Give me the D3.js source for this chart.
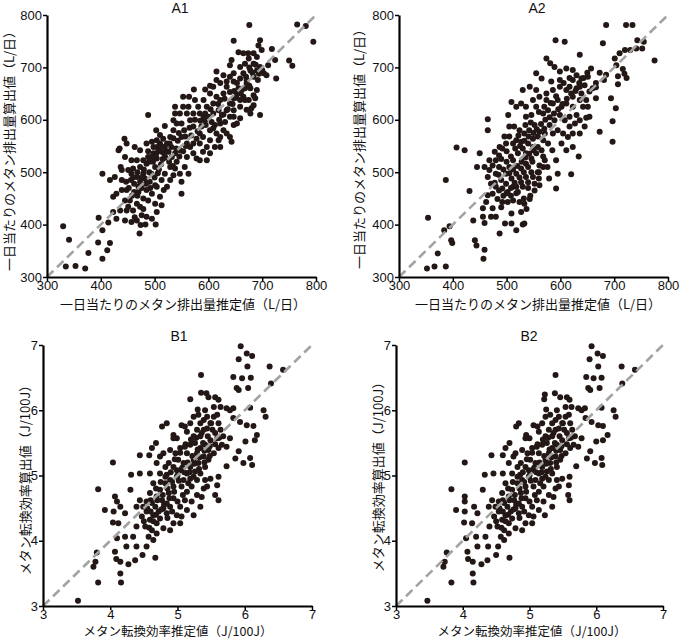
<!DOCTYPE html>
<html>
<head>
<meta charset="utf-8">
<script src="https://cdn.jsdelivr.net/npm/d3@7"></script>
<style>
body{margin:0;background:#fff;}
</style>
</head>
<body>
<svg id="chart" width="680" height="640"></svg>
<script>
// [推定値, 算出値]
var a1Points = [
[330,397],[341,371],[335,320],[353,321],[371,316],[377,346],[395,366],[396,413],[403,389],[412,351],
[403,335],[417,365],[414,404],[403,497],[417,485],[426,491],[423,453],[423,424],[429,411],[435,545],
[444,564],[439,504],[448,555],[439,466],[445,446],[448,427],[445,408],[457,405],[463,548],[463,414],
[472,383],[474,399],[483,400],[488,609],[502,400],[503,580],[519,588],[535,599],[550,459],[553,644],
[564,644],[573,658],[584,523],[597,523],[594,658],[603,665],[615,692],[622,670],[647,689],[647,751],
[643,714],[643,558],[647,590],[656,729],[676,781],[674,727],[684,727],[696,752],[696,609],[687,641],
[690,657],[718,735],[724,714],[726,679],[680,622],[750,713],[756,703],[765,782],[781,779],[795,749],
[671,619],[668,638],[659,625],[692,676],[671,670],
[433,542],[437,510],[447,482],[456,485],[460,507],[467,523],[470,472],[462,462],[454,446],[467,440],
[473,434],[479,450],[485,466],[491,482],[494,497],[501,510],[504,526],[513,539],[519,548],[526,539],
[532,529],[538,536],[547,542],[541,520],[529,510],[519,497],[513,485],[504,472],[495,459],[488,446],
[479,430],[476,418],[485,415],[495,411],[501,440],[510,453],[517,466],[523,472],[529,485],[535,494],
[547,497],[556,510],[563,497],[550,482],[538,507],[560,529],[566,548],[572,555],[578,564],[584,574],
[587,587],[594,599],[600,606],[606,596],[609,584],[615,574],[619,561],[622,548],[603,561],[597,548],
[590,539],[584,555],[572,587],[566,599],[560,612],[553,625],[547,612],[541,593],[535,580],[529,567],
[523,555],[516,564],[510,555],[507,542],[498,536],[488,529],[479,523],[473,510],[479,497],[485,516],
[473,482],[467,491],[457,497],[451,504],[439,485],[445,529],[457,523],[473,542],[485,555],[495,558],
[504,561],[510,571],[501,475],[448,466],[451,434],[460,427],[467,408],[436,427],[429,459],[504,424],
[513,437],
[584,612],[581,625],[575,638],[591,638],[597,625],[609,631],[615,644],[622,638],[628,650],[634,663],
[640,653],[647,641],[653,650],[640,631],[634,618],[625,609],[619,618],[609,612],[622,593],[628,580],
[634,574],[640,567],[631,596],[640,606],[647,618],[659,638],[662,657],[671,676],[665,689],[659,701],
[668,707],[678,694],[684,682],[690,694],[696,701],[703,689],[684,707],[675,717],[665,727],[690,720],
[699,733],[693,742],[653,670],[647,673],[640,682],[634,673],[628,685],[615,676],[609,663],[603,650],
[659,679],[678,660],[684,647],[665,644],[675,638],[684,628],[678,612],[647,606],[653,593],[622,567],
[612,548],[603,536],[590,567],[572,536],[578,526],[560,555],[550,567],[550,593],[538,612],[538,625],
[563,625],[572,612],[591,606],[659,603],[640,704],[711,704],[708,685],
[462,478],[468,455],[476,470],[482,488],[490,500],[497,520],[506,498],[512,515],[520,528],[527,520],
[534,512],[540,545],[546,530],[553,540],[558,550],[543,560],[531,548],[522,540],[515,525],[508,505],
[500,490],[492,470],[484,478],[476,490],[468,500],[460,490],[452,470],[458,455],[470,462],[480,505],
[488,540],[495,530],[505,548],[498,548],[512,550],[518,535],[528,555],[535,565],[545,575],[555,580],
[565,585],[575,600],[585,598],[595,590],[603,580],[612,590],[620,600],[628,610],[636,620],[645,630],
[652,642],[660,650],[668,660],[676,665],[682,690],[688,705],[694,688],[700,695],[676,700],[670,682],
[656,660],[648,655],[630,640],[618,630],[604,620],[594,612],[580,578],[568,570],[557,568],[490,520],
[503,535]
];

var a2Points = [
[354,413],[352,316],[366,320],[372,345],[387,320],[384,389],[394,397],[397,370],[399,365],[387,485],
[407,547],[422,542],[431,464],[438,408],[441,370],[444,360],[459,352],[457,335],[450,536],[445,510],
[465,601],[465,580],[456,431],[456,415],[459,403],[471,415],[474,431],[480,415],[490,433],[487,383],
[497,402],[509,402],[509,421],[518,389],[530,400],[533,402],
[591,752],[608,749],[636,724],[685,781],[722,781],[734,781],[743,752],[755,749],[752,736],[775,713],
[679,746],[657,698],[673,690],[716,697],[719,688],[723,680],[701,717],[704,704],[707,683],[710,727],
[720,733],[730,733],[741,736],[707,668],[694,641],[703,622],[697,597],[697,558],[654,654],[666,662],
[666,641],[681,676],[685,686],[673,577],[648,604],[623,548],[634,530],[620,496],[592,523],[595,497],
[592,469],[576,510],[579,488],[585,542],
[574,717],[581,708],[589,701],[599,692],[611,698],[623,695],[630,685],[623,676],[617,663],[630,660],
[639,650],[648,638],[651,625],[642,625],[636,638],[623,644],[611,657],[599,663],[586,657],[574,650],
[561,644],[555,657],[565,679],[549,638],[536,625],[527,631],[518,625],[509,634],[503,609],[536,606],
[546,609],[555,625],[568,612],[577,618],[586,631],[595,638],[602,625],[611,631],[623,625],[630,609],
[617,606],[608,599],[599,609],[589,599],[580,590],[570,583],[561,577],[552,590],[542,580],[533,574],
[524,580],[514,587],[505,568],[499,555],[492,545],[486,532],[480,523],[474,513],[468,504],[465,491],
[471,478],[480,472],[490,485],[499,497],[505,510],[512,523],[521,536],[530,545],[540,555],[549,564],
[558,568],[568,561],[577,555],[565,542],[555,536],[546,526],[536,516],[527,507],[518,497],[509,488],
[499,478],[492,469],[502,462],[512,472],[521,462],[530,472],[540,481],[549,491],[558,500],[568,510],
[571,523],[561,513],[546,500],[536,491],[527,481],[518,472],[512,446],[524,443],[533,440],[543,449],
[552,465],[561,475],[537,430],[527,424],[502,443],[492,443],[483,449],[474,459],[465,456],[462,443],
[468,523],[478,539],[487,548],[496,568],[505,587],[518,561],[527,558],[536,536],[586,574],[595,580],
[605,574],[614,567],[617,587],[627,593],[636,574],[602,555],[611,542],[636,599],[645,587],[623,574],
[599,676],[583,673],[555,689],[543,663],[530,657],[574,638],[654,606],[660,660],[666,670],[645,666],
[639,679],[651,682],[636,663],[571,574],[558,548],[549,548],[480,497],[459,510],[486,510],
[505,498],[512,505],[520,512],[528,520],[535,528],[542,535],[550,542],[548,520],[540,510],[532,500],
[524,490],[515,480],[508,470],[500,460],[494,455],[486,465],[478,480],[485,495],[494,505],[500,520],
[508,530],[516,545],[525,550],[533,560],[541,568],[550,575],[556,582],[564,592],[572,600],[580,605],
[588,612],[596,620],[604,630],[612,640],[620,650],[628,655],[635,670],[643,680],[650,690],[617,680],
[606,670],[592,645],[582,632],[570,625],[560,615],[545,595],[535,590],[522,570],[512,555],[500,540],
[490,525],[544,455],[552,478],[560,488],[532,450],[518,460],[508,455],[540,470],[560,500],[568,530]
];

var b1Points = [
[3.52,3.08],[3.75,3.60],[3.78,3.68],[3.80,3.82],[3.82,3.36],[3.82,4.79],[3.92,4.47],[4.04,5.20],[4.05,4.45],[4.04,4.28],
[4.07,4.68],[4.10,4.60],[4.10,4.04],[4.07,3.83],[4.09,3.72],[4.15,3.68],[4.12,4.27],[4.15,4.52],[4.15,3.50],[4.16,3.36],
[4.22,4.42],[4.22,4.06],[4.24,3.91],[4.27,3.64],[4.30,4.78],[4.31,5.01],[4.37,3.70],[4.34,4.06],[4.39,3.91],[4.39,4.22],
[4.44,5.31],[4.44,5.03],[4.48,3.78],[4.54,3.91],[4.59,5.03],[4.58,5.31],[4.62,5.42],[4.67,3.74],[4.68,5.50],[4.77,5.75],
[4.84,5.80],[4.74,5.29],[4.84,5.01],[4.94,5.62],[4.99,5.57],[5.06,5.77],[5.11,5.75],[5.19,6.17],[5.30,6.01],[5.35,6.54],
[5.35,6.27],[5.43,6.26],[5.46,6.20],[5.56,6.20],[5.61,6.16],[5.64,6.05],[5.73,6.03],[5.83,6.51],[5.88,6.34],[5.91,6.31],
[5.91,6.78],[5.94,6.98],[5.96,6.49],[6.03,6.87],[6.04,6.67],[6.11,6.83],[6.09,6.50],[6.05,6.34],[6.37,6.67],[6.39,6.41],
[6.57,6.62],[6.28,6.00],[6.31,5.90],[6.18,5.62],[6.15,5.54],[6.13,5.76],[6.03,5.77],[5.93,5.82],[5.83,5.88],[5.78,6.00],
[5.83,6.03],[6.08,6.04],[6.01,5.52],[5.91,5.37],[5.86,5.26],[5.98,5.19],[6.08,5.27],[6.11,5.16],[5.73,5.44],[5.78,5.57],
[5.73,5.14],[5.61,4.98],[5.59,4.85],[5.61,4.62],[5.56,4.70],[5.39,4.80],[5.34,4.52],[5.24,4.39],
[4.39,4.52],[4.44,4.62],[4.47,4.37],[4.54,4.45],[4.54,4.60],[4.59,4.73],[4.59,4.32],[4.64,4.39],[4.67,4.52],[4.69,4.68],
[4.74,4.78],[4.77,4.62],[4.79,4.50],[4.74,4.34],[4.69,4.27],[4.62,4.16],[4.57,4.06],[4.52,4.22],[4.64,4.01],[4.84,4.42],
[4.89,4.52],[4.94,4.65],[4.87,4.73],[4.82,4.88],[4.89,4.93],[4.94,4.83],[4.99,4.98],[5.04,5.08],[5.09,5.19],[5.01,5.24],
[4.94,5.13],[4.87,5.19],[4.79,5.34],[4.89,5.39],[4.97,5.34],[5.04,5.42],[5.14,5.34],[5.19,5.47],[5.24,5.60],[5.29,5.70],
[5.34,5.80],[5.39,5.85],[5.44,5.90],[5.49,5.80],[5.54,5.90],[5.59,5.93],[5.61,5.80],[5.56,5.65],[5.49,5.54],[5.41,5.47],
[5.34,5.42],[5.29,5.34],[5.24,5.24],[5.19,5.13],[5.14,5.03],[5.09,4.93],[5.06,4.83],[5.14,4.75],[5.21,4.83],[5.29,4.93],
[5.34,5.03],[5.41,5.13],[5.46,5.24],[5.54,5.34],[5.61,5.42],[5.66,5.47],[5.59,5.57],[5.46,5.39],[5.39,5.29],[5.31,5.19],
[5.26,5.06],[5.19,4.95],[5.11,4.62],[5.04,4.52],[4.99,4.39],[5.06,4.37],[5.14,4.47],[5.21,4.60],[5.29,4.70],[5.36,4.67],
[5.44,4.83],[5.49,4.95],[5.41,4.93],[4.84,4.57],[4.94,4.27],[4.89,4.16],[5.04,4.27],[4.79,4.19],[4.69,4.11],[4.49,4.52],
[4.94,5.57],[5.14,5.67],[5.19,5.80],[5.24,5.90],[5.31,5.93],[5.41,6.00],[5.54,6.05],[5.64,5.70],[5.68,5.60],[5.34,5.60],
[5.39,5.70],[4.99,5.08],[4.74,5.03],[4.69,5.19],[4.64,4.88],[4.82,5.13],[5.26,5.50],[5.11,5.44],
[4.55,4.50],[4.62,4.58],[4.70,4.62],[4.78,4.70],[4.85,4.80],[4.92,4.90],[5.00,5.00],[5.07,5.12],[5.15,5.20],[5.22,5.30],
[5.30,5.40],[5.38,5.50],[5.45,5.60],[5.52,5.70],[5.48,5.45],[5.40,5.38],[5.33,5.28],[5.25,5.18],[5.18,5.05],[5.10,5.05],
[5.02,4.92],[4.95,4.75],[4.88,4.65],[4.80,4.55],[4.72,4.45],[4.64,4.30],[4.58,4.20],[4.50,4.30],[4.60,4.45],[4.68,4.40],
[4.76,4.48],[4.85,4.35],[4.92,4.45],[5.00,4.60],[5.08,4.70],[5.16,4.88],[5.24,4.98],[5.32,5.10],[5.40,5.20],[5.48,5.30],
[5.56,5.48],[5.62,5.58],[5.50,5.80],[5.44,5.72],[5.36,5.65],[5.28,5.58],[5.20,5.55],[5.12,5.48],[5.04,5.35],[4.96,5.25],
[4.90,5.05],[4.82,4.98],[4.75,4.90],[4.68,4.80],[4.60,4.62]
];

var b2Points = [
[3.47,3.08],[3.71,3.60],[3.73,3.68],[3.76,3.82],[3.83,3.36],[3.83,4.79],[3.90,4.47],[4.03,5.20],[4.03,4.45],[4.02,4.28],
[4.03,4.68],[4.03,4.60],[4.05,4.04],[4.07,3.83],[4.08,3.72],[4.15,3.68],[4.14,4.27],[4.17,4.52],[4.15,3.50],[4.16,3.36],
[4.22,4.42],[4.20,4.06],[4.22,3.91],[4.28,3.64],[4.30,4.78],[4.33,5.01],[4.37,3.70],[4.34,4.06],[4.38,3.91],[4.40,4.22],
[4.43,5.31],[4.46,5.03],[4.50,3.78],[4.53,3.91],[4.60,5.03],[4.60,5.31],[4.64,5.42],[4.70,3.74],[4.70,5.50],[4.80,5.75],
[4.84,5.80],[4.76,5.29],[4.86,5.01],[4.95,5.62],[5.00,5.57],[5.06,5.77],[5.12,5.75],[5.22,6.17],[5.25,6.01],[5.39,6.54],
[5.23,6.24],[5.38,6.26],[5.46,6.20],[5.56,6.20],[5.60,6.16],[5.63,6.05],[5.73,6.03],[5.85,6.51],[5.88,6.34],[5.91,6.31],
[5.90,6.78],[5.93,6.98],[5.96,6.49],[6.02,6.87],[6.03,6.67],[6.10,6.83],[6.08,6.50],[6.05,6.34],[6.38,6.67],[6.39,6.41],
[6.58,6.62],[6.26,6.00],[6.29,5.90],[6.17,5.62],[6.10,5.54],[6.10,5.76],[6.03,5.77],[5.93,5.82],[5.84,5.88],[5.78,6.00],
[5.83,6.03],[6.08,6.04],[6.00,5.52],[5.91,5.37],[5.86,5.26],[5.98,5.19],[6.08,5.27],[6.09,5.16],[5.73,5.44],[5.78,5.57],
[5.70,5.14],[5.60,4.98],[5.59,4.85],[5.60,4.62],[5.58,4.70],[5.39,4.80],[5.34,4.52],[5.23,4.39],
[4.39,4.52],[4.44,4.62],[4.47,4.37],[4.54,4.45],[4.54,4.60],[4.59,4.73],[4.59,4.32],[4.64,4.39],[4.67,4.52],[4.69,4.68],
[4.74,4.78],[4.77,4.62],[4.79,4.50],[4.74,4.34],[4.69,4.27],[4.62,4.16],[4.57,4.06],[4.52,4.22],[4.62,4.01],[4.84,4.42],
[4.89,4.52],[4.94,4.65],[4.87,4.73],[4.82,4.88],[4.89,4.93],[4.94,4.83],[4.99,4.98],[5.04,5.08],[5.09,5.19],[5.01,5.24],
[4.94,5.13],[4.87,5.19],[4.79,5.34],[4.89,5.39],[4.97,5.34],[5.04,5.42],[5.14,5.34],[5.19,5.47],[5.24,5.60],[5.29,5.70],
[5.34,5.80],[5.39,5.85],[5.44,5.90],[5.49,5.80],[5.54,5.90],[5.59,5.93],[5.61,5.80],[5.56,5.65],[5.49,5.54],[5.41,5.47],
[5.34,5.42],[5.29,5.34],[5.24,5.24],[5.19,5.13],[5.14,5.03],[5.09,4.93],[5.06,4.83],[5.14,4.75],[5.21,4.83],[5.29,4.93],
[5.34,5.03],[5.41,5.13],[5.46,5.24],[5.54,5.34],[5.61,5.42],[5.66,5.47],[5.59,5.57],[5.46,5.39],[5.39,5.29],[5.31,5.19],
[5.26,5.06],[5.19,4.95],[5.11,4.62],[5.04,4.52],[4.99,4.39],[5.06,4.37],[5.14,4.47],[5.21,4.60],[5.29,4.70],[5.36,4.67],
[5.44,4.83],[5.49,4.95],[5.41,4.93],[4.84,4.57],[4.94,4.27],[4.89,4.16],[5.04,4.27],[4.79,4.19],[4.69,4.11],[4.49,4.52],
[4.94,5.57],[5.14,5.67],[5.19,5.80],[5.24,5.90],[5.31,5.93],[5.41,6.00],[5.54,6.05],[5.64,5.70],[5.68,5.60],[5.34,5.60],
[5.39,5.70],[4.99,5.08],[4.74,5.03],[4.69,5.19],[4.64,4.88],[4.82,5.13],[5.26,5.50],[5.11,5.44],
[4.55,4.50],[4.62,4.58],[4.70,4.62],[4.78,4.70],[4.85,4.80],[4.92,4.90],[5.00,5.00],[5.07,5.12],[5.15,5.20],[5.22,5.30],
[5.30,5.40],[5.38,5.50],[5.45,5.60],[5.52,5.70],[5.48,5.45],[5.40,5.38],[5.33,5.28],[5.25,5.18],[5.18,5.05],[5.10,5.05],
[5.02,4.92],[4.95,4.75],[4.88,4.65],[4.80,4.55],[4.72,4.45],[4.64,4.30],[4.58,4.20],[4.50,4.30],[4.60,4.45],[4.68,4.40],
[4.76,4.48],[4.85,4.35],[4.92,4.45],[5.00,4.60],[5.08,4.70],[5.16,4.88],[5.24,4.98],[5.32,5.10],[5.40,5.20],[5.48,5.30],
[5.56,5.48],[5.62,5.58],[5.50,5.80],[5.44,5.72],[5.36,5.65],[5.28,5.58],[5.20,5.55],[5.12,5.48],[5.04,5.35],[4.96,5.25],
[4.90,5.05],[4.82,4.98],[4.75,4.90],[4.68,4.80],[4.60,4.62]
];

var aTicks = [300, 400, 500, 600, 700, 800];
var bTicks = [3, 4, 5, 6, 7];
var titles = ["A1", "A2", "B1", "B2"];
var aXLabel = "一日当たりのメタン排出量推定値（L/日）";
var aYLabel = "一日当たりのメタン排出量算出値（L/日）";
var bXLabel = "メタン転換効率推定値（J/100J）";
var bYLabel = "メタン転換効率算出値（J/100J）";

var panels = [
    {title:titles[0], data:a1Points, ticks:aTicks, xLabel:aXLabel, yLabel:aYLabel, labelSize:13,
        left:47, top:15, w:269, h:262, titleX:180, titleY:12.5, xlX:183, xlY:309, ylX:14, ylY:148},
    {title:titles[1], data:a2Points, ticks:aTicks, xLabel:aXLabel, yLabel:aYLabel, labelSize:13,
        left:399, top:15, w:269, h:262, titleX:537, titleY:12.5, xlX:538, xlY:309, ylX:364, ylY:146},
    {title:titles[2], data:b1Points, ticks:bTicks, xLabel:bXLabel, yLabel:bYLabel, labelSize:12.5,
        left:43, top:345, w:269, h:261, titleX:179, titleY:341, xlX:178, xlY:636.2, ylX:30, ylY:477},
    {title:titles[3], data:b2Points, ticks:bTicks, xLabel:bXLabel, yLabel:bYLabel, labelSize:12.5,
        left:396, top:345, w:267, h:261, titleX:529, titleY:341, xlX:532, xlY:636.2, ylX:383, ylY:474}
];

var svg = d3.select("#chart");
var numFont = "'Liberation Sans', Arial, sans-serif";
var jpFont = "'Noto Sans CJK JP', sans-serif";

panels.forEach(function(p){
    var lo = p.ticks[0], hi = p.ticks[p.ticks.length-1];
    var x = d3.scaleLinear().domain([lo, hi]).range([0, p.w]);
    var y = d3.scaleLinear().domain([lo, hi]).range([p.h, 0]);

    var g = svg.append("g")
        .attr("transform", "translate(" + p.left + "," + p.top + ")");

    g.selectAll(".dot")
        .data(p.data)
        .enter()
        .append("circle")
        .attr("class", "dot")
        .attr("cx", function(d){ return x(d[0]); })
        .attr("cy", function(d){ return y(d[1]); })
        .attr("r", 3)
        .attr("fill", "#231815");

    // 1:1 line
    g.append("line")
        .attr("x1", x(lo)).attr("y1", y(lo))
        .attr("x2", x(hi)).attr("y2", y(hi))
        .attr("stroke", "#a3a3a3")
        .attr("stroke-width", 2.6)
        .attr("stroke-dasharray", "9,5");

    var xAxis = g.append("g")
        .attr("transform", "translate(0," + p.h + ")")
        .call(d3.axisBottom(x).tickValues(p.ticks).tickFormat(d3.format("d"))
            .tickSize(4).tickSizeOuter(0).tickPadding(-0.5));
    var yAxis = g.append("g")
        .call(d3.axisLeft(y).tickValues(p.ticks).tickFormat(d3.format("d"))
            .tickSize(4).tickSizeOuter(0).tickPadding(1));

    [xAxis, yAxis].forEach(function(ax){
        ax.select(".domain").attr("stroke", "#000").attr("stroke-width", 2.2);
        ax.selectAll(".tick line").attr("stroke", "#000").attr("stroke-width", 1.5);
        ax.selectAll(".tick text")
            .attr("fill", "#111")
            .attr("font-family", numFont)
            .attr("font-size", "13px");
    });

    svg.append("text")
        .text(p.title)
        .attr("x", p.titleX)
        .attr("y", p.titleY)
        .attr("text-anchor", "middle")
        .attr("font-family", numFont)
        .attr("font-size", "14px")
        .attr("fill", "#111");

    svg.append("text")
        .text(p.xLabel)
        .attr("x", p.xlX)
        .attr("y", p.xlY)
        .attr("text-anchor", "middle")
        .attr("font-family", jpFont)
        .attr("font-size", p.labelSize + "px")
        .attr("fill", "#111");

    svg.append("text")
        .text(p.yLabel)
        .attr("transform", "translate(" + p.ylX + "," + p.ylY + ") rotate(-90)")
        .attr("text-anchor", "middle")
        .attr("font-family", jpFont)
        .attr("font-size", "13px")
        .attr("fill", "#111");
});
</script>
</body>
</html>
